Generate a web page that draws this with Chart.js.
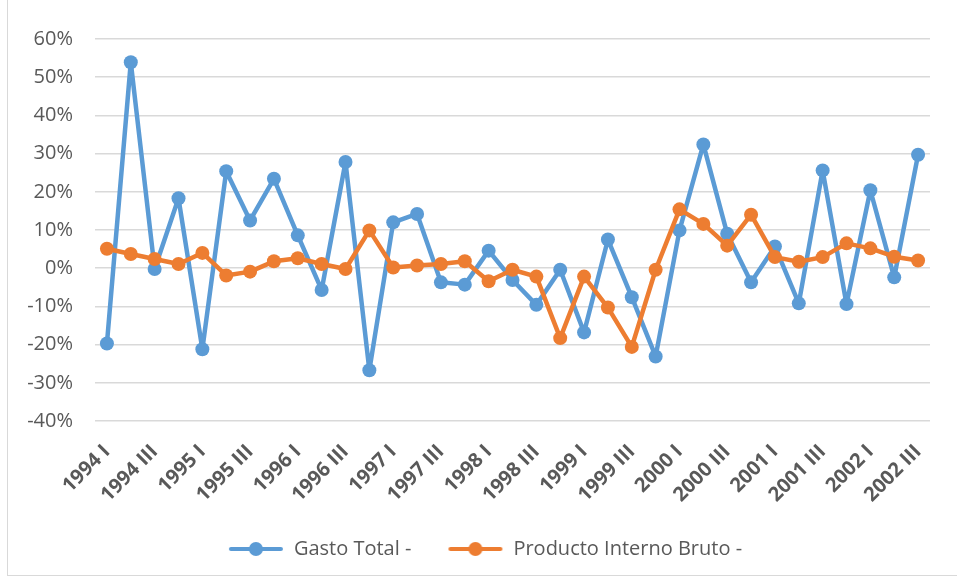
<!DOCTYPE html>
<html>
<head>
<meta charset="utf-8">
<script src="https://cdn.jsdelivr.net/npm/chart.js@4.4.1/dist/chart.umd.min.js"></script>
<style>
  html, body { margin: 0; padding: 0; background: #fff; overflow: hidden; }
  #wrap { position: relative; width: 957px; height: 578px; }
  #frame { position: absolute; left: 7px; top: -1px; width: 960px; height: 577px; border: 1px solid #d9d9d9; box-sizing: border-box; }
  canvas { position: absolute; left: 0; top: 0; }
</style>
</head>
<body>
<div id="wrap">
  <div id="frame"></div>
  <canvas id="chart" width="957" height="578"></canvas>
</div>
<script>
// Trimestres 1994 I - 2002 III
const quarters = [];
for (let y = 1994; y <= 2002; y++) {
  ['I', 'II', 'III', 'IV'].forEach(q => quarters.push(y + ' ' + q));
}
quarters.pop(); // termina en 2002 III

// Variación (%)
const gastoTotal = [
  -19.7, 53.9, -0.2, 18.3, -21.2, 25.4, 12.5, 23.4, 8.6, -5.7, 27.8, -26.7,
  12.0, 14.2, -3.7, -4.3, 4.6, -3.1, -9.6, -0.4, -16.8, 7.5, -7.6, -23.1,
  9.9, 32.4, 9.0, -3.7, 5.7, -9.2, 25.6, -9.4, 20.4, -2.4, 29.7
];
const pib = [
  5.1, 3.7, 2.4, 1.1, 4.0, -1.9, -0.9, 1.8, 2.6, 1.1, -0.2, 9.9,
  0.2, 0.7, 1.1, 1.8, -3.4, -0.4, -2.2, -18.3, -2.2, -10.3, -20.6, -0.4,
  15.4, 11.6, 5.9, 14.0, 2.9, 1.7, 2.9, 6.5, 5.2, 3.0, 2.0
];

const BLUE = '#5B9BD5';
const ORANGE = '#ED7D31';
const TEXT = '#595959';

// icono de leyenda: línea con círculo
function legendIcon(color) {
  const c = document.createElement('canvas');
  c.width = 56; c.height = 16;
  const g = c.getContext('2d');
  g.strokeStyle = color;
  g.lineWidth = 4;
  g.lineCap = 'round';
  g.beginPath();
  g.moveTo(3, 8);
  g.lineTo(53, 8);
  g.stroke();
  g.fillStyle = color;
  g.beginPath();
  g.arc(28, 8, 7, 0, Math.PI * 2);
  g.fill();
  return c;
}

// desplaza la leyenda un poco a la derecha (centrada como en Excel)
const legendShift = {
  id: 'legendShift',
  afterLayout(chart) {
    chart.legend.left += 20;
    chart.legend.right += 20;
  }
};

new Chart(document.getElementById('chart'), {
  type: 'line',
  data: {
    labels: quarters,
    datasets: [
      {
        label: 'Gasto Total -',
        data: gastoTotal,
        borderColor: BLUE,
        backgroundColor: BLUE,
        borderWidth: 4.5,
        borderJoinStyle: 'round',
        pointRadius: 7,
        pointBorderWidth: 0,
        tension: 0,
        order: 2
      },
      {
        label: 'Producto Interno Bruto -',
        data: pib,
        borderColor: ORANGE,
        backgroundColor: ORANGE,
        borderWidth: 4.5,
        borderJoinStyle: 'round',
        pointRadius: 7,
        pointBorderWidth: 0,
        tension: 0,
        order: 1
      }
    ]
  },
  plugins: [legendShift],
  options: {
    responsive: false,
    animation: false,
    layout: {
      padding: { top: 39, right: 27, bottom: 9, left: 0 }
    },
    scales: {
      x: {
        offset: true,
        grid: { display: false },
        border: { display: false },
        ticks: {
          autoSkip: false,
          minRotation: 45,
          maxRotation: 45,
          padding: 11,
          color: TEXT,
          font: { family: 'Open Sans', size: 20, weight: 'bold' },
          callback: (v, i) => (i % 2 === 0 ? quarters[i] : '')
        },
        afterFit: scale => { scale.height = 108; }
      },
      y: {
        min: -40,
        max: 60,
        grid: { color: '#d9d9d9', lineWidth: 1.5, drawTicks: false },
        border: { display: false },
        ticks: {
          stepSize: 10,
          padding: 22,
          color: TEXT,
          font: { family: 'Open Sans', size: 20 },
          callback: v => v + '%'
        },
        afterFit: scale => { scale.width = 95; }
      }
    },
    plugins: {
      tooltip: { enabled: false },
      legend: {
        position: 'bottom',
        labels: {
          usePointStyle: true,
          pointStyleWidth: 56,
          padding: 10,
          color: TEXT,
          font: { family: 'Open Sans', size: 20 },
          generateLabels: chart => chart.data.datasets.map((ds, i) => ({
            // espacios finales para separar las dos entradas
            text: i === 0 ? ds.label + '\u00a0\u00a0\u00a0\u00a0\u00a0' : ds.label,
            fontColor: TEXT,
            pointStyle: legendIcon(ds.borderColor),
            fillStyle: ds.borderColor,
            strokeStyle: ds.borderColor,
            lineWidth: 0,
            hidden: false,
            datasetIndex: i
          }))
        }
      }
    }
  }
});
</script>
</body>
</html>
